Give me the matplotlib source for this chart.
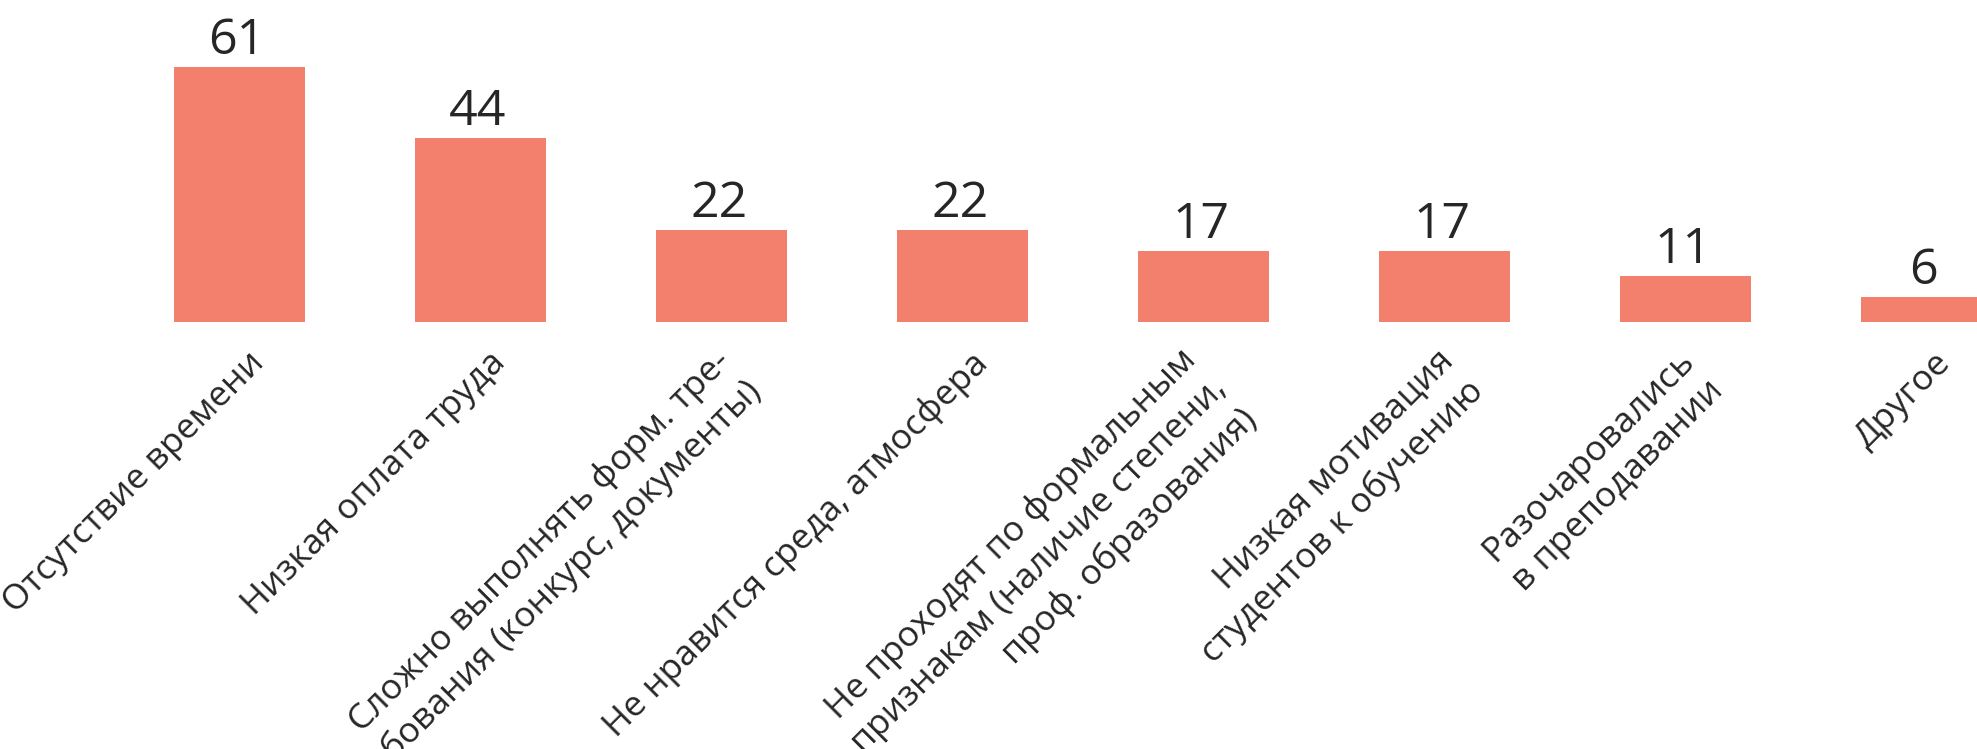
import matplotlib
matplotlib.use("Agg")
import matplotlib.pyplot as plt

# survey answers and counts
categories = [
    "Отсутствие времени",
    "Низкая оплата труда",
    "Сложно выполнять форм. тре-\nбования (конкурс, документы)",
    "Не нравится среда, атмосфера",
    "Не проходят по формальным\nпризнакам (наличие степени,\nпроф. образования)",
    "Низкая мотивация\nстудентов к обучению",
    "Разочаровались\nв преподавании",
    "Другое",
]
counts = [61, 44, 22, 22, 17, 17, 11, 6]

bar_color = '#F3806C'
text_color = '#262626'
plt.rcParams['font.family'] = ['Open Sans', 'DejaVu Sans']

W, H, DPI = 1977, 749, 100
fig = plt.figure(figsize=(W / DPI, H / DPI), dpi=DPI)

# bar baseline sits at y=322 px from top, bars step 241 px, first centre at 239.5 px
base_px = 322
ax = fig.add_axes([0, (H - base_px) / H, 1, base_px / H])
ax.set_xlim(-239.5 / 241, (W - 239.5) / 241)
ax.set_ylim(0, base_px / (255 / 61))
ax.axis('off')

x = list(range(len(counts)))
bars = ax.bar(x, counts, width=0.544, color=bar_color)

for xi, v in zip(x, counts):
    ax.annotate(str(v), xy=(xi, v), xytext=(-2, 1), textcoords='offset points',
                ha='center', va='bottom', fontsize=36, color=text_color)

for xi, lab in zip(x, categories):
    n = lab.count('\n')
    # multi-line labels sit a bit further left, like in the source chart
    dx = 5.5 - 11.7 * n
    dy = -17.0 + 1.4 * n
    ax.annotate(lab, xy=(xi, 0), xytext=(dx, dy), textcoords='offset points',
                ha='right', va='top', rotation=45, rotation_mode='anchor',
                fontsize=25.5, color=text_color, linespacing=1.3,
                annotation_clip=False)

fig.savefig('out.png', dpi=DPI, facecolor='white')
